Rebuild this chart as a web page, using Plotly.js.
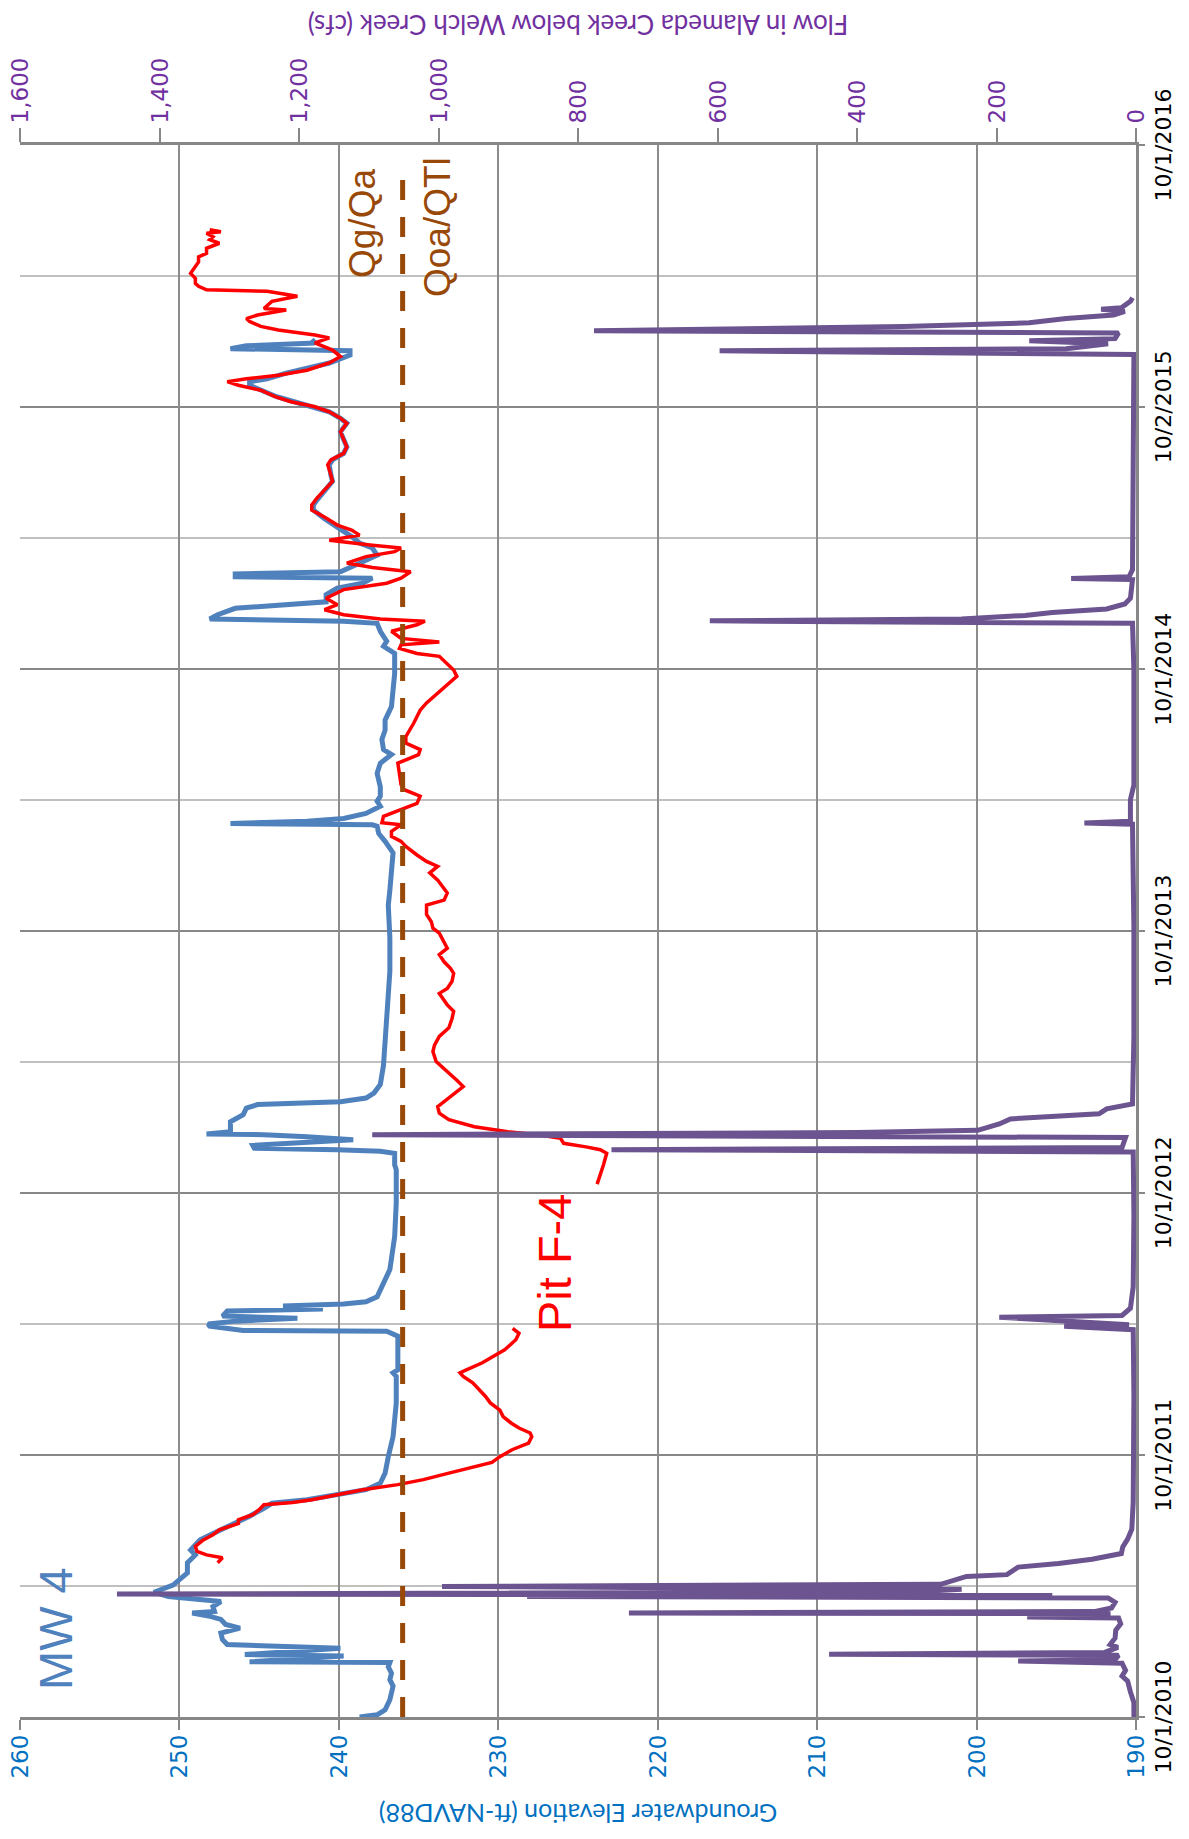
<!DOCTYPE html>
<html>
<head>
<meta charset="utf-8">
<script src="https://cdn.plot.ly/plotly-3.0.1.min.js"></script>
<style>
html,body{margin:0;padding:0;width:1189px;height:1839px;overflow:hidden;background:#fff;}
#chart{position:absolute;left:0;top:0;width:1839px;height:1189px;}
</style>
</head>
<body>
<div id="chart"></div>
<script>
// Time axis values: days since 10/1/2010 (like spreadsheet date serials)
const dayTicks = [0, 365, 731, 1096, 1461, 1827, 2192];
const dateLabels = ['10/1/2010', '10/1/2011', '10/1/2012', '10/1/2013', '10/1/2014', '10/2/2015', '10/1/2016'];
const minorDayTicks = [182, 548, 913, 1278, 1644, 2009];
const elevTicks = [190, 200, 210, 220, 230, 240, 250, 260];
const flowTicks = [0, 200, 400, 600, 800, 1000, 1200, 1400, 1600];

// MW 4 groundwater elevation (ft-NAVD88)
const mw4Day = [
  0,3,10,24,43,52,61,70,76,77,
  85,87,96,101,108,117,124,129,136,140,
  145,147,154,161,168,174,184,201,215,226,
  233,247,261,270,280,291,298,303,310,317,
  326,340,363,387,391,438,475,480,484,531,
  535,538,539,545,548,552,556,559,566,569,
  573,576,579,586,605,624,670,717,763,770,
  786,789,791,793,797,800,805,809,812,813,
  816,830,840,849,854,858,863,870,882,909,
  947,993,1040,1086,1132,1153,1186,1205,1221,1232,
  1242,1244,1246,1249,1253,1260,1270,1277,1284,1297,
  1316,1330,1342,1349,1363,1376,1390,1409,1432,1455,
  1483,1493,1500,1514,1525,1528,1531,1537,1546,1551,
  1555,1565,1574,1581,1588,1590,1594,1597,1602,1611,
  1620,1630,1637,1646,1653,1662,1671,1683,1690,1699,
  1709,1723,1732,1746,1753,1762,1771,1781,1792,1804,
  1811,1820,1827,1834,1841,1850,1857,1862,1866,1874,
  1888,1899,1905,1908,1912,1916,1921
];
const mw4Elev = [
  238.7,237.6,237.1,236.8,236.6,236.8,236.7,236.9,236.8,245.6,
  239.7,245.9,239.9,247.0,247.3,247.4,246.2,247.1,247.4,248.0,
  249.2,247.8,247.9,247.4,250.7,251.6,250.4,249.5,249.5,249.0,
  249.3,248.7,247.4,246.5,245.6,244.7,244.2,242.0,239.9,238.3,
  237.4,237.1,236.9,236.7,236.6,236.4,236.4,236.6,236.3,236.3,
  236.8,237.0,246.0,248.1,248.2,246.5,242.6,247.3,247.0,241.0,
  243.5,239.7,238.3,237.6,237.2,236.8,236.5,236.4,236.4,236.5,
  236.5,237.4,240.1,245.3,245.4,242.9,239.1,242.0,244.7,248.3,
  246.8,246.8,246.0,245.8,245.1,239.9,238.3,237.8,237.4,237.2,
  237.1,237.0,236.8,236.8,236.9,236.8,236.7,236.6,237.1,237.5,
  237.6,237.9,246.8,242.0,239.7,238.3,237.4,237.6,237.4,237.4,
  237.6,237.4,236.7,237.2,237.3,237.1,237.1,236.7,236.6,236.5,
  236.5,237.2,237.0,237.4,237.6,239.7,248.1,247.6,246.5,242.9,
  240.8,240.8,240.1,238.5,237.9,246.5,246.5,239.9,239.4,238.5,
  237.6,237.9,238.7,239.2,239.7,240.2,240.9,241.6,241.6,241.3,
  240.9,240.4,240.5,240.6,240.4,239.7,239.5,239.7,239.9,239.5,
  239.9,240.6,241.6,242.8,243.9,244.8,245.6,245.6,244.5,243.3,
  240.6,239.3,239.3,246.8,245.8,241.5,241.7
];

// Pit F-4 groundwater elevation (ft-NAVD88); null = no record
const pitDay = [
  215,222,226,231,238,247,254,261,270,275,
  282,289,296,299,303,310,317,324,331,340,
  349,355,363,373,382,387,391,396,403,410,
  419,428,438,447,456,466,475,480,484,494,
  503,512,526,535,542,640,743,749,770,786,
  791,795,800,807,812,816,823,833,842,851,
  858,868,879,888,900,914,928,937,949,961,
  974,984,993,1002,1009,1016,1026,1037,1044,1053,
  1063,1072,1081,1093,1100,1109,1119,1132,1139,1149,
  1158,1167,1177,1186,1193,1202,1214,1221,1228,1235,
  1244,1247,1256,1265,1274,1284,1293,1300,1316,1330,
  1342,1349,1358,1367,1386,1404,1414,1428,1442,1451,
  1460,1469,1479,1483,1490,1495,1499,1504,1514,1523,
  1528,1531,1537,1544,1551,1560,1572,1581,1588,1597,
  1603,1609,1618,1625,1630,1634,1641,1648,1655,1662,
  1672,1683,1690,1699,1709,1723,1732,1746,1753,1762,
  1771,1781,1792,1804,1811,1820,1827,1834,1841,1850,
  1857,1862,1866,1871,1878,1888,1897,1906,1916,1923,
  1927,1934,1939,1946,1950,1955,1962,1964,1974,1981,
  1988,1990,1995,1999,2006,2013,2022,2029,2036,2041,
  2048,2055,2060,2064,2069,2071,2074
];
const pitElev = [
  247.6,247.3,248.3,248.9,249.0,248.5,247.9,247.5,246.3,246.3,
  245.4,245.0,244.7,242.9,241.7,240.1,238.5,236.3,234.7,233.1,
  231.5,230.4,229.9,229.1,228.1,228.0,227.9,228.0,228.7,229.2,
  229.7,229.9,230.5,230.8,231.2,231.6,232.2,232.4,232.0,231.0,
  230.3,229.6,228.9,228.7,229.1,null,223.8,223.7,223.4,223.2,
  223.6,224.5,225.9,226.1,227.5,229.4,231.5,233.1,233.7,233.8,
  233.4,232.8,232.2,232.6,233.2,233.9,234.1,234.0,233.7,233.1,
  232.9,232.8,233.2,233.5,233.7,233.2,232.9,232.8,233.0,233.4,
  233.7,233.2,233.4,233.7,234.1,234.2,234.5,234.5,233.4,233.2,
  233.5,233.8,234.3,233.8,234.5,235.1,235.8,236.1,236.7,236.7,
  236.1,237.3,237.2,236.1,235.1,234.9,235.9,236.1,236.2,236.3,
  235.0,234.9,235.8,235.8,235.3,234.9,234.5,233.8,233.1,232.6,
  232.8,233.2,233.7,235.1,236.2,236.1,233.7,236.1,236.7,235.1,
  234.6,237.4,239.7,240.9,240.1,240.8,239.7,237.0,236.1,235.5,
  237.9,239.5,238.3,236.5,236.1,237.9,240.6,238.7,239.2,240.1,
  240.8,241.7,241.7,241.4,241.0,240.4,240.5,240.7,240.5,239.7,
  239.5,239.7,239.9,239.5,239.9,240.6,241.5,243.0,244.0,244.9,
  246.3,247.0,245.8,243.8,242.0,240.6,239.9,240.4,241.5,240.6,
  241.5,243.8,244.9,245.6,245.8,245.1,243.3,244.7,244.2,242.6,
  244.5,248.3,248.8,249.0,249.0,249.3,249.0,248.8,248.8,248.3,
  248.3,247.5,248.1,247.9,248.3,247.4,248.1
];

// Flow in Alameda Creek below Welch Creek (cfs)
const flowDay = [
  0,20,35,50,57,65,75,78,80,86,
  87.5,90,97,101,110,121,130,138,139.5,141,
  144,145,147,152,160,166,168,169.5,171.5,174,
  178,182,185,196,198.5,209,214,220,228,237,
  248,262,300,365,450,540,545,547,557.5,560,
  570,600,700,788,791,794,808,812,815,818,
  827,834,841,848,855,950,1100,1245,1246.5,1249,
  1279,1300,1460,1525,1528.5,1531,1536,1540,1545,1552,
  1560,1586,1587.5,1590,1600,1900,1905,1908,1915,1919,
  1922,1930,1933,1939,1944,1950,1955,1960,1963,1965,
  1974,1979
];
const flowCfs = [
  3,3,8,12,20,15,20,169,30,25,
  440,45,26,37,30,29,22,25,156,40,
  40,727,60,35,30,40,873,120,1461,330,
  250,995,280,243,185,169,111,63,21,19,
  12,6,4,3,3,4,103,10,196,20,
  8,4,3,4,752,20,15,1095,400,227,
  196,180,53,42,5,3,3,5,74,8,
  8,3,3,5,611,250,159,120,42,16,
  8,5,93,10,5,3,597,100,40,153,
  30,25,777,333,153,100,32,16,50,21,
  8,5
];

// Geologic contact (Qg/Qa over Qoa/QTl)
const contactElev = 236;
const contactDays = [0, 2165];

const traces = [
  {x: mw4Day, y: mw4Elev, type: 'scatter', mode: 'lines', name: 'MW 4',
   line: {color: '#4F81BD', width: 5}, yaxis: 'y', hoverinfo: 'skip'},
  {x: pitDay, y: pitElev, type: 'scatter', mode: 'lines', name: 'Pit F-4',
   line: {color: '#FF0000', width: 3.5}, yaxis: 'y', connectgaps: false, hoverinfo: 'skip'},
  {x: flowDay, y: flowCfs, type: 'scatter', mode: 'lines', name: 'Flow',
   line: {color: '#6B548F', width: 5}, yaxis: 'y2', hoverinfo: 'skip'}
];

const gridGray = '#878787';
const layout = {
  width: 1839, height: 1189,
  margin: {l: 122, r: 145, t: 20, b: 53, pad: 0},
  paper_bgcolor: '#ffffff', plot_bgcolor: '#ffffff',
  showlegend: false,
  font: {family: 'DejaVu Sans', size: 23, color: '#000'},
  xaxis: {
    type: 'linear', range: [0, 2192], tickmode: 'array', tickvals: dayTicks, ticktext: dateLabels,
    showgrid: true, gridcolor: gridGray, gridwidth: 2.5,
    ticks: 'outside', ticklen: 6, tickwidth: 2, tickcolor: gridGray,
    tickfont: {family: 'DejaVu Sans', size: 22, color: '#000'},
    showline: true, linecolor: gridGray, linewidth: 2.5, zeroline: false,
    minor: {tickmode: 'array', tickvals: minorDayTicks, showgrid: true, gridcolor: '#c0c0c0', gridwidth: 2, ticks: ''},
    automargin: false
  },
  yaxis: {
    range: [190, 260], tickmode: 'array', tickvals: elevTicks,
    showgrid: true, gridcolor: '#8c8c8c', gridwidth: 2,
    ticks: 'outside', ticklen: 10, tickwidth: 2, tickcolor: gridGray,
    tickfont: {family: 'DejaVu Sans', size: 23, color: '#0070C0'},
    showline: true, linecolor: gridGray, linewidth: 3, zeroline: false,
    title: {text: 'Groundwater Elevation (ft-NAVD88)', font: {family: 'Lato', size: 25, color: '#0070C0'}, standoff: 18},
    automargin: false
  },
  yaxis2: {
    range: [0, 1600], overlaying: 'y', side: 'right', tickmode: 'array', tickvals: flowTicks,
    tickformat: ',d', showgrid: false, zeroline: false,
    ticks: 'outside', ticklen: 14, tickwidth: 2, tickcolor: gridGray,
    tickfont: {family: 'DejaVu Sans', size: 23, color: '#7030A0'},
    showline: true, linecolor: gridGray, linewidth: 3,
    title: {text: 'Flow in Alameda Creek below Welch Creek (cfs)', font: {family: 'Lato', size: 26, color: '#7030A0'}, standoff: 26},
    automargin: false
  },
  shapes: [
    {type: 'line', xref: 'x', yref: 'y', x0: contactDays[0], x1: contactDays[1], y0: contactElev, y1: contactElev,
     line: {color: '#984807', width: 5, dash: '20px,17px'}, layer: 'above'}
  ],
  annotations: [
    {x: 124, y: 257.8, xref: 'x', yref: 'y', text: 'MW 4', showarrow: false,
     font: {family: 'Liberation Sans', size: 47, color: '#4F81BD'}},
    {x: 633, y: 226.5, xref: 'x', yref: 'y', text: 'Pit F-4', showarrow: false,
     font: {family: 'Liberation Sans', size: 47, color: '#FF0000'}},
    {x: 2082, y: 238.5, xref: 'x', yref: 'y', text: 'Qg/Qa', showarrow: false,
     font: {family: 'Liberation Sans', size: 37, color: '#984807'}},
    {x: 2078, y: 233.8, xref: 'x', yref: 'y', text: 'Qoa/QTl', showarrow: false,
     font: {family: 'Liberation Sans', size: 37, color: '#984807'}}
  ]
};

const el = document.getElementById('chart');
Plotly.newPlot(el, traces, layout, {staticPlot: true, displayModeBar: false}).then(function () {
  el.style.transformOrigin = '0 0';
  el.style.transform = 'translateY(1839px) rotate(-90deg)';
});
</script>
</body>
</html>
